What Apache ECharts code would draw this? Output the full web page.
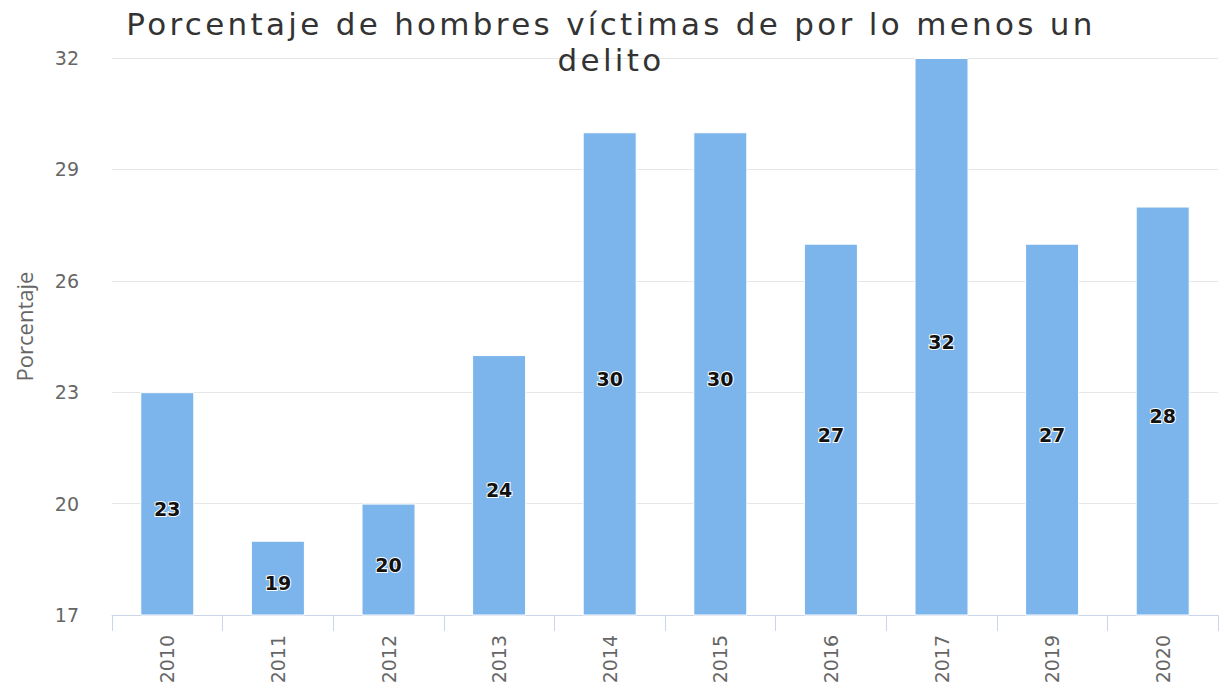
<!DOCTYPE html>
<html>
<head>
<meta charset="utf-8">
<script src="https://cdn.jsdelivr.net/npm/echarts@6/dist/echarts.min.js"></script>
<style>
  html, body { margin: 0; padding: 0; background: #ffffff; }
  #chart { width: 1224px; height: 690px; }
</style>
</head>
<body>
<div id="chart"></div>
<script>
// Años de la encuesta
const years = ['2010', '2011', '2012', '2013', '2014', '2015', '2016', '2017', '2019', '2020'];
// Porcentaje de hombres víctimas
const values = [23, 19, 20, 24, 30, 30, 27, 32, 27, 28];
// Rango del eje vertical
const yMin = 17;
const yMax = 32;
const yStep = 3;

const titleLines = ['Porcentaje de hombres víctimas de por lo menos un', 'delito'];

const chart = echarts.init(document.getElementById('chart'), null, { renderer: 'svg' });

chart.setOption({
  animation: false,
  backgroundColor: '#ffffff',
  title: {
    text: titleLines.join('\n'),
    left: 606,
    top: 1,
    textAlign: 'center',
    textStyle: {
      fontFamily: 'DejaVu Sans',
      fontSize: 31,
      fontWeight: 'normal',
      color: '#333333',
      lineHeight: 36
    }
  },
  grid: {
    left: 112,
    right: 6,
    top: 58,
    bottom: 75
  },
  xAxis: {
    type: 'category',
    data: years,
    axisLine: { lineStyle: { color: '#ccd6eb', width: 1 } },
    axisTick: { show: true, length: 16, lineStyle: { color: '#ccd6eb' } },
    axisLabel: {
      rotate: 90,
      margin: 20,
      fontFamily: 'DejaVu Sans',
      fontSize: 19,
      color: '#666666'
    },
    splitLine: { show: false }
  },
  yAxis: {
    type: 'value',
    min: yMin,
    max: yMax,
    interval: yStep,
    name: 'Porcentaje',
    nameLocation: 'middle',
    nameGap: 77,
    nameTextStyle: {
      fontFamily: 'Open Sans',
      fontSize: 22,
      color: '#666666',
      padding: [0, 0, 0, 20]
    },
    axisLine: { show: false },
    axisTick: { show: false },
    axisLabel: {
      margin: 33,
      fontFamily: 'DejaVu Sans',
      fontSize: 19,
      color: '#666666'
    },
    splitLine: { lineStyle: { color: '#e6e6e6', width: 1 } }
  },
  series: [{
    type: 'bar',
    data: values,
    barWidth: 54,
    itemStyle: {
      color: '#7cb5ec',
      borderColor: '#ffffff',
      borderWidth: 1
    },
    label: {
      show: true,
      position: 'inside',
      offset: [0, 5],
      fontFamily: 'DejaVu Sans',
      fontSize: 19,
      fontWeight: 'bold',
      color: '#111111',
      textBorderColor: '#ffffff',
      textBorderWidth: 2
    }
  }]
});

// Título con letras algo más espaciadas
function spaceTitle() {
  document.querySelectorAll('#chart svg text').forEach(function (t) {
    if (titleLines.indexOf(t.textContent) !== -1) {
      t.setAttribute('letter-spacing', '3.3px');
    }
  });
}
chart.on('finished', spaceTitle);
spaceTitle();
</script>
</body>
</html>
